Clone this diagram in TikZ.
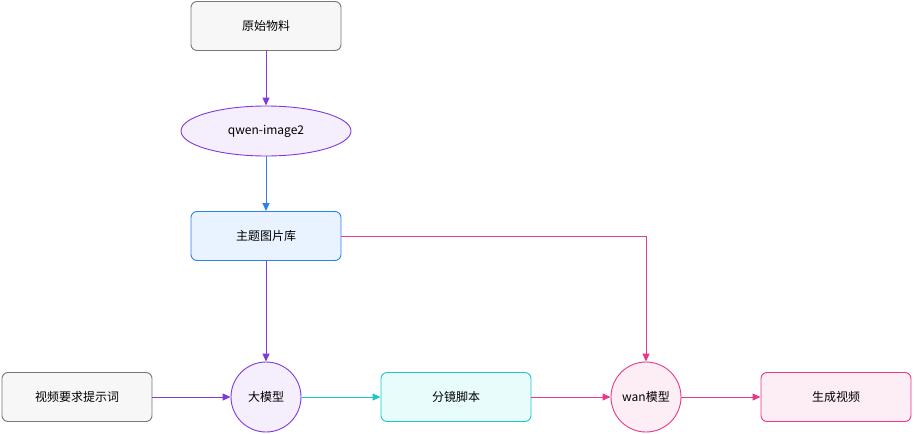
\documentclass[tikz,border=0pt]{standalone}
\usepackage{fontspec}
\setmainfont{Noto Sans CJK SC}
\usetikzlibrary{shapes.geometric,arrows.meta}
\definecolor{gfill}{HTML}{F7F7F7}\definecolor{gline}{HTML}{777777}
\definecolor{pfill}{HTML}{F5EEFC}\definecolor{pline}{HTML}{7E3BD8}
\definecolor{bfill}{HTML}{E8F3FF}\definecolor{bline}{HTML}{2F80ED}
\definecolor{cfill}{HTML}{E8FCFC}\definecolor{cline}{HTML}{1EC8C8}
\definecolor{kfill}{HTML}{FDEEF5}\definecolor{kline}{HTML}{E8388A}
\begin{document}
\begin{tikzpicture}[x=1pt,y=-1pt,
 box/.style={draw,rounded corners=6pt,minimum width=150pt,minimum height=49pt,line width=0.9pt,font=\fontsize{12}{14}\selectfont},
 circ/.style={draw,circle,minimum size=70pt,inner sep=0pt,line width=0.9pt,font=\fontsize{12}{14}\selectfont},
 arr/.style={-{Triangle[length=8pt,width=7pt]},line width=1pt}]
\path[use as bounding box] (0,0) rectangle (914,434);
\node[box,fill=gfill,draw=gline] (raw) at (266,26) {原始物料};
\node[draw=pline,fill=pfill,ellipse,minimum width=170pt,minimum height=50pt,line width=0.9pt,font=\fontsize{12}{14}\selectfont] (qw) at (266,131) {qwen-image2};
\node[box,fill=bfill,draw=bline] (lib) at (266,236) {主题图片库};
\node[box,fill=gfill,draw=gline] (req) at (77,397) {视频要求提示词};
\node[circ,fill=pfill,draw=pline] (llm) at (266,397) {大模型};
\node[box,fill=cfill,draw=cline] (sb) at (456,397) {分镜脚本};
\node[circ,fill=kfill,draw=kline] (wan) at (646,397) {wan模型};
\node[box,fill=kfill,draw=kline] (out) at (836,397) {生成视频};
\draw[arr,pline] (raw) -- (qw);
\draw[arr,bline] (qw) -- (lib);
\draw[arr,pline] (lib) -- (llm);
\draw[arr,kline] (lib.east) -| (wan.north);
\draw[arr,pline] (req) -- (llm);
\draw[arr,cline] (llm) -- (sb);
\draw[arr,kline] (sb) -- (wan);
\draw[arr,kline] (wan) -- (out);
\end{tikzpicture}
\end{document}
